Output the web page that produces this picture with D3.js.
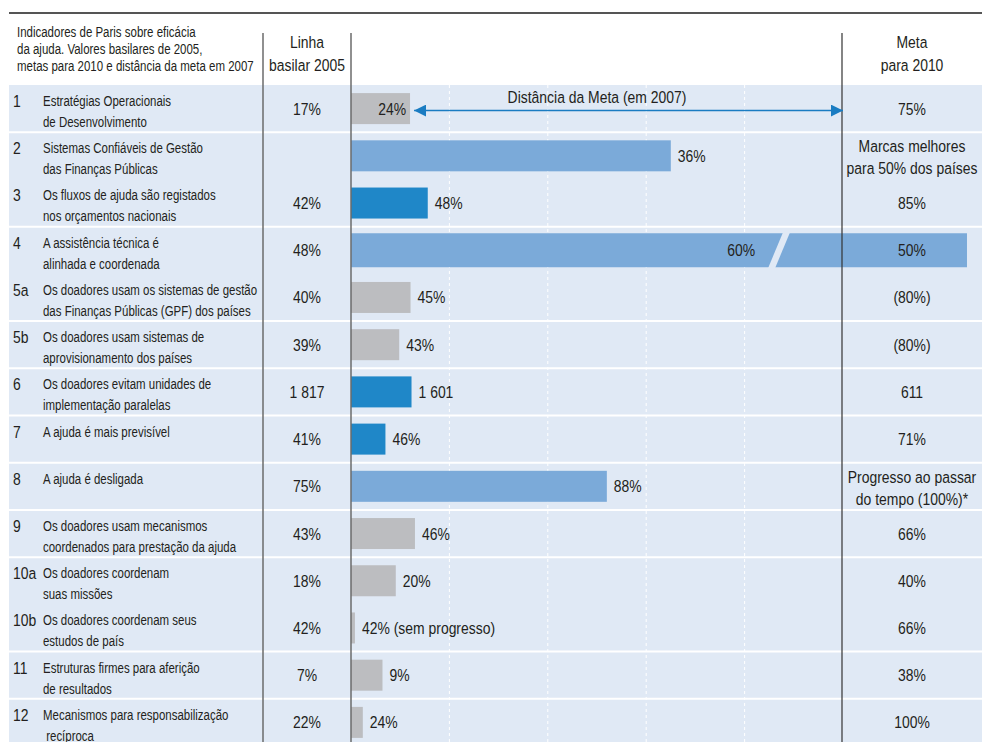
<!DOCTYPE html>
<html>
<head>
<meta charset="utf-8">
<script src="https://cdn.jsdelivr.net/npm/d3@7"></script>
<style>
  body { margin: 0; background: #fff; }
  text { font-family: 'Liberation Sans', Arial, sans-serif; fill: #231f20; }
</style>
</head>
<body>
<div id="my_dataviz"></div>
<script>
// Indicators (row ids and labels)
var ids = ['1', '2', '3', '4', '5a', '5b', '6', '7', '8', '9', '10a', '10b', '11', '12'];
var labels = [
    ['Estratégias Operacionais', 'de Desenvolvimento'],
    ['Sistemas Confiáveis de Gestão', 'das Finanças Públicas'],
    ['Os fluxos de ajuda são registados', 'nos orçamentos nacionais'],
    ['A assistência técnica é', 'alinhada e coordenada'],
    ['Os doadores usam os sistemas de gestão', 'das Finanças Públicas (GPF) dos países'],
    ['Os doadores usam sistemas de', 'aprovisionamento dos países'],
    ['Os doadores evitam unidades de', 'implementação paralelas'],
    ['A ajuda é mais previsível'],
    ['A ajuda é desligada'],
    ['Os doadores usam mecanismos', 'coordenados para prestação da ajuda'],
    ['Os doadores coordenam', 'suas missões'],
    ['Os doadores coordenam seus', 'estudos de país'],
    ['Estruturas firmes para aferição', 'de resultados'],
    ['Mecanismos para responsabilização', ' recíproca']
];
// Baseline 2005, value in 2007, target 2010
var baseline2005 = ['17%', '', '42%', '48%', '40%', '39%', '1 817', '41%', '75%', '43%', '18%', '42%', '7%', '22%'];
var value2007 = ['24%', '36%', '48%', '60%', '45%', '43%', '1 601', '46%', '88%', '46%', '20%', '42% (sem progresso)', '9%', '24%'];
var target2010 = [['75%'], ['Marcas melhores', 'para 50% dos países'], ['85%'], ['50%'], ['(80%)'], ['(80%)'], ['611'],
    ['71%'], ['Progresso ao passar', 'do tempo (100%)*'], ['66%'], ['40%'], ['66%'], ['38%'], ['100%']];
// Share of the distance to the target covered in 2007 (%)
var progress = [12, 65, 15.6, 125.2, 12.1, 9.8, 12.3, 7.0, 52, 13, 9.1, 0.8, 6.4, 2.4];
var barType = ['grey', 'light', 'dark', 'light', 'grey', 'grey', 'dark', 'dark', 'light', 'grey', 'grey', 'grey', 'grey', 'grey'];
var gridTicks = [20, 40, 60, 80];
// rows that share a panel with the row above (no white rule between them)
var joinedRows = ['3', '5a', '10b'];
var brokenRow = '4', breakAt = 87;

var width = 982, height = 742;
var bg = '#e0e9f5';
var colors = { grey: '#bcbdc0', light: '#7baad9', dark: '#1f87c8' };
var narrow = 0.82; // condensed look

var svg = d3.select('#my_dataviz')
    .append('svg')
    .attr('width', width)
    .attr('height', height);

var rows = ids.map(function (id, i) {
    return { id: id, label: labels[i], base: baseline2005[i], val: value2007[i], target: target2010[i], p: progress[i], type: barType[i] };
});

var y = d3.scaleBand().domain(ids).range([85, 746]);
var x = d3.scaleLinear().domain([0, 100]).range([351, 843]);

// background panel
svg.append('rect')
    .attr('x', 9).attr('y', 85)
    .attr('width', width - 9).attr('height', height - 85)
    .attr('fill', bg);

// dashed grid
svg.selectAll('.grid')
    .data(gridTicks)
    .enter()
    .append('line')
    .attr('x1', function (d) { return x(d); })
    .attr('x2', function (d) { return x(d); })
    .attr('y1', 85).attr('y2', height)
    .attr('stroke', '#fff')
    .attr('stroke-dasharray', '3,3');

// white rules between panels
svg.selectAll('.rule')
    .data(rows.filter(function (d, i) { return i > 0 && joinedRows.indexOf(d.id) < 0; }))
    .enter()
    .append('line')
    .attr('x1', 9).attr('x2', width)
    .attr('y1', function (d) { return y(d.id); })
    .attr('y2', function (d) { return y(d.id); })
    .attr('stroke', '#fff')
    .attr('stroke-width', 2);

// top rule
svg.append('line')
    .attr('x1', 9).attr('x2', width)
    .attr('y1', 13).attr('y2', 13)
    .attr('stroke', '#555').attr('stroke-width', 2);

// bars
svg.selectAll('.bar')
    .data(rows)
    .enter()
    .append('rect')
    .attr('x', x(0))
    .attr('y', function (d) { return y(d.id) + y.bandwidth() / 2 - (d.id === brokenRow ? 17 : 15.5); })
    .attr('width', function (d) { return x(d.p) - x(0); })
    .attr('height', function (d) { return d.id === brokenRow ? 34 : 31; })
    .attr('fill', function (d) { return colors[d.type]; });

// break mark on the overflowing bar
var bx = x(breakAt), byc = y(brokenRow) + y.bandwidth() / 2;
svg.append('polygon')
    .attr('points', [[bx - 11, byc + 18], [bx - 4, byc + 18], [bx + 11, byc - 18], [bx + 4, byc - 18]].join(' '))
    .attr('fill', bg);

// vertical column rules
svg.append('line').attr('x1', 263).attr('x2', 263).attr('y1', 33).attr('y2', height)
    .attr('stroke', '#6b6b6b').attr('stroke-width', 1.5);
svg.append('line').attr('x1', 351).attr('x2', 351).attr('y1', 33).attr('y2', height)
    .attr('stroke', '#6b6b6b').attr('stroke-width', 1.5);
svg.append('line').attr('x1', 842).attr('x2', 842).attr('y1', 33).attr('y2', height)
    .attr('stroke', '#333').attr('stroke-width', 1.2);

// column headers
var headLeft = ['Indicadores de Paris sobre eficácia', 'da ajuda. Valores basilares de 2005,', 'metas para 2010 e distância da meta em 2007'];
svg.selectAll('.hl')
    .data(headLeft)
    .enter()
    .append('text')
    .attr('x', 17)
    .attr('y', function (d, i) { return 37 + i * 17; })
    .attr('font-size', '14px')
    .text(function (d) { return d; });

[['Linha', 'basilar 2005', 307], ['Meta', 'para 2010', 912]].forEach(function (h) {
    svg.append('text').attr('x', h[2]).attr('y', 48).attr('text-anchor', 'middle')
        .attr('font-size', '17px').text(h[0]);
    svg.append('text').attr('x', h[2]).attr('y', 71).attr('text-anchor', 'middle')
        .attr('font-size', '17px').text(h[1]);
});

var row = svg.selectAll('.row')
    .data(rows)
    .enter()
    .append('g')
    .attr('transform', function (d) { return 'translate(0,' + y(d.id) + ')'; });

// indicator number
row.append('text')
    .attr('x', 13)
    .attr('y', 22)
    .attr('font-size', '17px')
    .text(function (d) { return d.id; });

// indicator label (set a bit tighter than the rest)
row.each(function (d) {
    d3.select(this).selectAll('.lbl')
        .data(d.label)
        .enter()
        .append('text')
        .attr('class', 'lbl')
        .attr('x', 43)
        .attr('y', function (t, i) { return 21 + i * 21; })
        .attr('font-size', '15.5px')
        .attr('xml:space', 'preserve')
        .text(function (t) { return t; });
});

// baseline 2005
row.append('text')
    .attr('x', 307)
    .attr('y', y.bandwidth() / 2 + 6)
    .attr('text-anchor', 'middle')
    .attr('font-size', '17px')
    .text(function (d) { return d.base; });

// 2007 value next to the bar
row.append('text')
    .attr('x', function (d) {
        if (d.id === '1') return x(d.p) - 4;
        if (d.id === brokenRow) return x(breakAt) - 24;
        return x(d.p) + 7;
    })
    .attr('y', y.bandwidth() / 2 + 6)
    .attr('text-anchor', function (d) { return (d.id === '1' || d.id === brokenRow) ? 'end' : 'start'; })
    .attr('font-size', '17px')
    .text(function (d) { return d.val; });

// target 2010
row.each(function (d) {
    var two = d.target.length > 1;
    d3.select(this).selectAll('.tg')
        .data(d.target)
        .enter()
        .append('text')
        .attr('x', 912)
        .attr('y', function (t, i) { return two ? 20 + i * 22 : y.bandwidth() / 2 + 6; })
        .attr('text-anchor', 'middle')
        .attr('font-size', '17px')
        .text(function (t) { return t; });
});

// distance-to-target arrow on the first row
var ay = y('1') + y.bandwidth() / 2 + 2;
var defs = svg.append('defs');
['start', 'end'].forEach(function (k) {
    defs.append('marker')
        .attr('id', 'arr-' + k)
        .attr('viewBox', '0 0 10 10')
        .attr('refX', 10).attr('refY', 5)
        .attr('markerWidth', 12).attr('markerHeight', 12)
        .attr('markerUnits', 'userSpaceOnUse')
        .attr('orient', k === 'start' ? 'auto-start-reverse' : 'auto')
        .append('path')
        .attr('d', 'M0,0L10,5L0,10Z')
        .attr('fill', '#1a7cc2');
});
svg.append('line')
    .attr('x1', x(progress[0]) + 4).attr('x2', x(100))
    .attr('y1', ay).attr('y2', ay)
    .attr('stroke', '#1a7cc2').attr('stroke-width', 1.5)
    .attr('marker-start', 'url(#arr-start)')
    .attr('marker-end', 'url(#arr-end)');
svg.append('text')
    .attr('x', x(50)).attr('y', ay - 8)
    .attr('text-anchor', 'middle')
    .attr('font-size', '17px')
    .text('Distância da Meta (em 2007)');

// squeeze every label horizontally to get the condensed type of the original
svg.selectAll('text').each(function () {
    var t = d3.select(this);
    var tx = +t.attr('x'), ty = +t.attr('y');
    var sx = t.classed('lbl') ? 0.74 : narrow;
    t.attr('x', null).attr('y', null)
        .attr('transform', 'translate(' + tx + ',' + ty + ') scale(' + sx + ',1)');
});
</script>
</body>
</html>
